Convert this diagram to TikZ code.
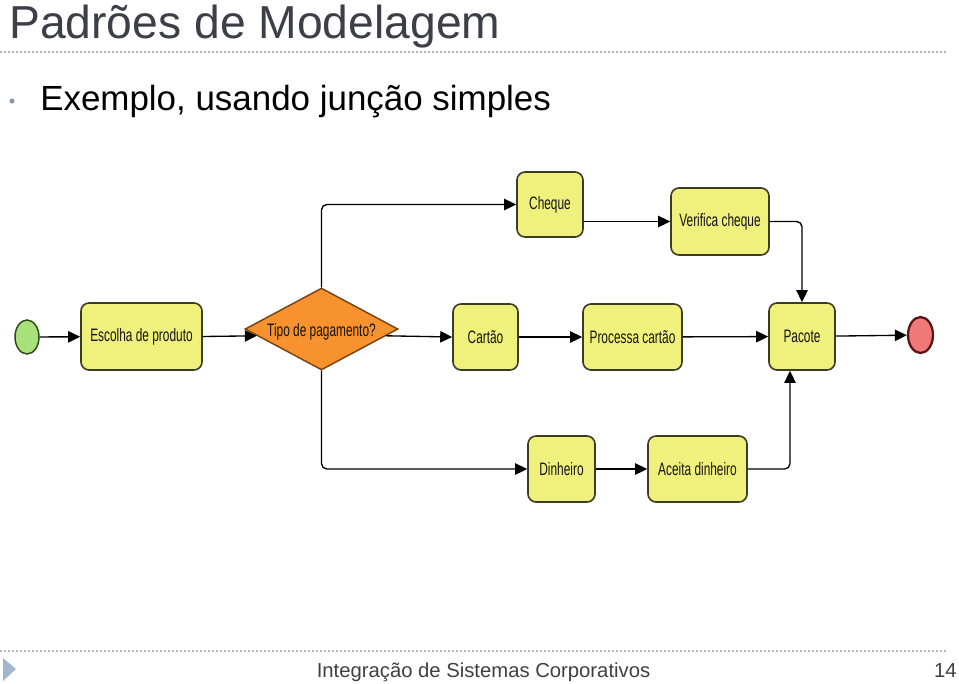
\documentclass[tikz,border=0pt]{standalone}
\usepackage{fontspec}
\setmainfont{Liberation Sans}
\newfontfamily\diagfont[FakeStretch=0.66]{Liberation Sans}
\usetikzlibrary{shapes.geometric,arrows.meta,calc}
\definecolor{boxfill}{HTML}{F0F07C}
\definecolor{boxline}{HTML}{3C3C24}
\definecolor{txt}{HTML}{151515}
\definecolor{decfill}{HTML}{F7922E}
\definecolor{decline}{HTML}{7A4410}
\definecolor{startfill}{HTML}{A8E07A}
\definecolor{startline}{HTML}{2F4A1F}
\definecolor{endfill}{HTML}{F07878}
\definecolor{endline}{HTML}{5A1515}
\definecolor{titlecol}{HTML}{3E3E48}
\definecolor{footcol}{HTML}{404040}
\definecolor{rulecol}{HTML}{B4B4B4}
\definecolor{tricol}{HTML}{A2B6CE}
\definecolor{bulletcol}{HTML}{8A96A8}
\begin{document}
\begin{tikzpicture}[x=0.75pt,y=-0.75pt,
  act/.style={draw=boxline, fill=boxfill, rounded corners=6pt, line width=1.2pt,
    minimum height=49.5pt, inner sep=0pt, text=txt,
    font=\diagfont\fontsize{13.5}{15}\selectfont},
  arr/.style={draw=black, line width=1pt, rounded corners=4pt,
    -{Triangle[length=9pt,width=8.5pt]}},
  rulel/.style={draw=rulecol, line width=0.8pt, dash pattern=on 1.5pt off 1.5pt},
  startst/.style={ellipse, draw=startline, fill=startfill, line width=1.1pt,
    minimum width=18pt, minimum height=25.5pt, inner sep=0pt},
  endst/.style={ellipse, draw=endline, fill=endfill, line width=1.7pt,
    minimum width=18.75pt, minimum height=27pt, inner sep=0pt},
  decst/.style={diamond, draw=decline, fill=decfill, line width=1.1pt,
    minimum width=114.75pt, minimum height=61.5pt, inner sep=0pt}
]
\useasboundingbox (0,0) rectangle (959,683);

% header
\node[anchor=base west, inner sep=0pt, text=titlecol,
  font=\fontsize{34.7}{40}\selectfont] (title) at (9,38) {Padrões de Modelagem};
\draw[rulel] (0,52) -- (946,52);
\node[circle, fill=bulletcol, inner sep=0pt, minimum size=3.8pt] (bul) at (12,101) {};
\node[anchor=base west, inner sep=0pt, text=black,
  font=\fontsize{26.2}{30}\selectfont] (sub) at (40,110) {Exemplo, usando junção simples};

% footer
\draw[rulel] (0,651) -- (946,651);
\fill[tricol] (3,658) -- (16,669) -- (3,681) -- cycle;
\node[anchor=base, inner sep=0pt, text=footcol,
  font=\fontsize{15.2}{18}\selectfont] (foot) at (483.5,677) {Integração de Sistemas Corporativos};
\node[anchor=base east, inner sep=0pt, text=footcol,
  font=\fontsize{15.2}{18}\selectfont] (pg) at (957,677) {14};

% diagram nodes
\node[startst] (start) at (27,337) {};
\node[act, minimum width=90.75pt, minimum height=50.25pt] (esc) at (141.5,336.5) {Escolha de produto};
\node[decst] (dec) at (321.5,329) {};
\node[text=txt, font=\diagfont\fontsize{13.5}{15}\selectfont, inner sep=0pt] (dectxt) at (321.5,332) {Tipo de pagamento?};
\node[act, minimum width=48.75pt] (car) at (485.5,337) {Cartão};
\node[act, minimum width=74.25pt] (pro) at (632.5,337) {Processa cartão};
\node[act, minimum width=49.5pt, minimum height=50.25pt] (pac) at (802,336.5) {Pacote};
\node[endst] (end) at (920.5,335) {};
\node[act, minimum width=49.5pt, minimum height=48.75pt] (chq) at (550,204.5) {Cheque};
\node[act, minimum width=73.5pt, minimum height=50.25pt] (ver) at (720,221.5) {Verifica cheque};
\node[act, minimum width=50.25pt] (din) at (561.5,469) {Dinheiro};
\node[act, minimum width=74.25pt] (ace) at (697.5,469) {Aceita dinheiro};

% connectors
\draw[arr] (start) -- (esc);
\draw[arr] (esc.east) -- (dec.186);
\draw[arr] (dec.354) -- (car.west);
\draw[arr] (dec.north) |- (chq.west);
\draw[arr] (dec.south) |- (din.west);
\draw[arr] (ver.west -| chq.east) -- (ver.west);
\draw[arr] (ver.east) -| (pac.north);
\draw[arr] (car) -- (pro);
\draw[arr] (pro) -- (pac);
\draw[arr] (pac) -- (end);
\draw[arr] (din) -- (ace);
\draw[arr] (ace.east) -| ($(pac.south)+(-12,0)$);
\end{tikzpicture}
\end{document}
